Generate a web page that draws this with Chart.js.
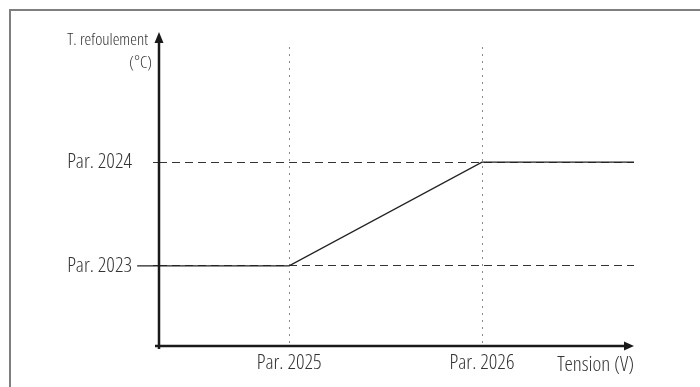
<!DOCTYPE html>
<html>
<head>
<meta charset="utf-8">
<script src="https://cdn.jsdelivr.net/npm/chart.js@4.4.1/dist/chart.umd.min.js"></script>
<style>
  html, body { margin: 0; padding: 0; background: #fff; overflow: hidden; }
  #frame { position: absolute; left: 9px; top: 9px; width: 720px; height: 420px; border: 2px solid #7f7f7f; }
  #chart { position: absolute; left: 0; top: 0; }
</style>
</head>
<body>
<div id="frame"></div>
<canvas id="chart" width="700" height="387"></canvas>
<script>
// Data (abstract units, 0..100 on both axes)
var xTickValues = [27.4, 68.0];
var xTickLabels = ["Par. 2025", "Par. 2026"];
var yTickValues = [26.8, 61.5];
var yTickLabels = ["Par. 2023", "Par. 2024"];
var curveX = [-4.6, 27.4, 68.0, 100];
var curveY = [26.8, 26.8, 61.5, 61.5];
var xTitle = "Tension (V)";
var yTitle = ["T. refoulement", "(°C)"];

// light condensed face (stretch goes in the weight slot of the font shorthand)
var FONT = { family: "'Open Sans', sans-serif", weight: "300 condensed", size: 21 };
var TITLE_FONT = "300 condensed 17px 'Open Sans', sans-serif";
var TEXT = "#333";

// Axis lines with arrows + y title
var axisArrows = {
    id: "axisArrows",
    afterDatasetsDraw: function (chart) {
        var ctx = chart.ctx, a = chart.chartArea;
        var x0 = chart.scales.x.getPixelForValue(0);
        var y0 = chart.scales.y.getPixelForValue(0);
        ctx.save();
        ctx.strokeStyle = "#1a1a1a";
        ctx.fillStyle = "#1a1a1a";
        ctx.lineWidth = 2.5;
        ctx.beginPath();
        ctx.moveTo(x0, y0 + 3);
        ctx.lineTo(x0, a.top - 5);
        ctx.moveTo(x0 - 4, y0);
        ctx.lineTo(a.right - 8, y0);
        ctx.stroke();
        ctx.beginPath();
        ctx.moveTo(x0, a.top - 15);
        ctx.lineTo(x0 - 4.5, a.top - 4);
        ctx.lineTo(x0 + 4.5, a.top - 4);
        ctx.closePath();
        ctx.moveTo(a.right, y0);
        ctx.lineTo(a.right - 10, y0 - 4.5);
        ctx.lineTo(a.right - 10, y0 + 4.5);
        ctx.closePath();
        ctx.fill();
        ctx.fillStyle = TEXT;
        ctx.font = TITLE_FONT;
        ctx.textAlign = "right";
        ctx.textBaseline = "middle";
        ctx.fillText(yTitle[0], x0 - 11, a.top - 7);
        ctx.fillText(yTitle[1], x0 - 7, a.top + 16);
        ctx.restore();
    }
};

var points = curveX.map(function (v, i) { return {x: v, y: curveY[i]}; });

var ctx = document.getElementById("chart").getContext("2d");
var myChart = new Chart(ctx, {
    type: "line",
    data: {
        datasets: [{
            data: points,
            borderColor: "#222",
            borderWidth: 1.4,
            pointRadius: 0,
            tension: 0,
            clip: false
        }]
    },
    options: {
        responsive: false,
        animation: false,
        layout: { padding: { top: 47, right: 66, bottom: 0, left: 0 } },
        plugins: { legend: { display: false }, tooltip: { enabled: false } },
        scales: {
            x: {
                type: "linear",
                min: 0, max: 100,
                afterFit: function (s) { s.height = 41; },
                afterBuildTicks: function (s) {
                    s.ticks = xTickValues.map(function (v) { return {value: v}; });
                },
                ticks: {
                    autoSkip: false,
                    maxRotation: 0,
                    padding: 4,
                    color: TEXT,
                    font: FONT,
                    callback: function (v, i) { return xTickLabels[i]; }
                },
                grid: { color: "#8a8a8a", lineWidth: 1, drawTicks: false },
                border: { display: false, dash: [2, 5] },
                title: {
                    display: true, text: xTitle, align: "end", color: TEXT,
                    font: FONT,
                    padding: { top: 0, bottom: 9 }
                }
            },
            y: {
                type: "linear",
                min: 0, max: 100,
                afterFit: function (s) { s.width = 159; },
                afterBuildTicks: function (s) {
                    s.ticks = yTickValues.map(function (v) { return {value: v}; });
                },
                ticks: {
                    autoSkip: false,
                    padding: 21,
                    color: TEXT,
                    font: FONT,
                    callback: function (v, i) { return yTickLabels[i]; }
                },
                grid: {
                    color: "#333", lineWidth: 1,
                    tickBorderDash: [8, 5], tickLength: 6
                },
                border: { display: false, dash: [8, 5] }
            }
        }
    },
    plugins: [axisArrows]
});
</script>
</body>
</html>
